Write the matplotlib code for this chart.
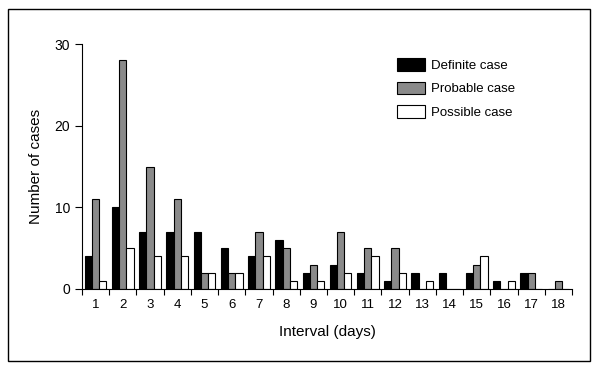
import matplotlib.pyplot as plt
import numpy as np
from matplotlib.patches import Patch, Rectangle

# Days since onset
days = list(range(1, 19))
definite = [4, 10, 7, 7, 7, 5, 4, 6, 2, 3, 2, 1, 2, 2, 2, 1, 2, 0]
probable = [11, 28, 15, 11, 2, 2, 7, 5, 3, 7, 5, 5, 0, 0, 3, 0, 2, 1]
possible = [1, 5, 4, 4, 2, 2, 4, 1, 1, 2, 4, 2, 1, 0, 4, 1, 0, 0]
series_names = ["Definite case", "Probable case", "Possible case"]
series_colors = ["black", "#8a8a8a", "white"]

plt.rcParams['font.family'] = ['Liberation Sans', 'DejaVu Sans']

fig = plt.figure(figsize=(6, 3.7), dpi=100)
ax = fig.add_axes([82 / 600, 1 - 289 / 370, 490 / 600, 245 / 370])

x = np.array(days)
w = 0.265
for k, (vals, col) in enumerate(zip([definite, probable, possible], series_colors)):
    ax.bar(x + (k - 1) * w, vals, width=w, color=col, edgecolor="black", linewidth=0.8)

ax.set_xlim(0.5, 18.5)
ax.set_ylim(0, 30)

# boundary ticks below axis, labels centred on groups
ax.set_xticks(np.arange(0.5, 19, 1))
ax.set_xticklabels([])
ax.set_xticks(x, minor=True)
ax.set_xticklabels([str(d) for d in days], minor=True, fontsize=9.5)
ax.tick_params(axis="x", which="major", direction="out", length=4, width=0.8)
ax.tick_params(axis="x", which="minor", length=0, pad=7)

ax.set_yticks([0, 10, 20, 30])
ax.tick_params(axis="y", direction="out", length=5, width=0.8, labelsize=10)

for s in ["top", "right"]:
    ax.spines[s].set_visible(False)
ax.spines["left"].set_linewidth(0.8)
ax.spines["bottom"].set_linewidth(0.8)

ax.set_xlabel("Interval (days)", fontsize=11, labelpad=10)
ax.set_ylabel("Number of cases", fontsize=11, labelpad=8)

handles = [Patch(facecolor=c, edgecolor="black", linewidth=0.8) for c in series_colors]
fig.legend(handles, series_names, loc="upper left", bbox_to_anchor=(385 / 600, 1 - 46 / 370),
           frameon=False, fontsize=9.5, handlelength=2.1, handleheight=1.1,
           labelspacing=0.75, handletextpad=0.5)

# outer frame
fig.patches.append(Rectangle((8 / 600, 9 / 370), 582 / 600, 352 / 370, transform=fig.transFigure,
                             fill=False, edgecolor="black", linewidth=1.0))

fig.savefig("out.png", dpi=100)
